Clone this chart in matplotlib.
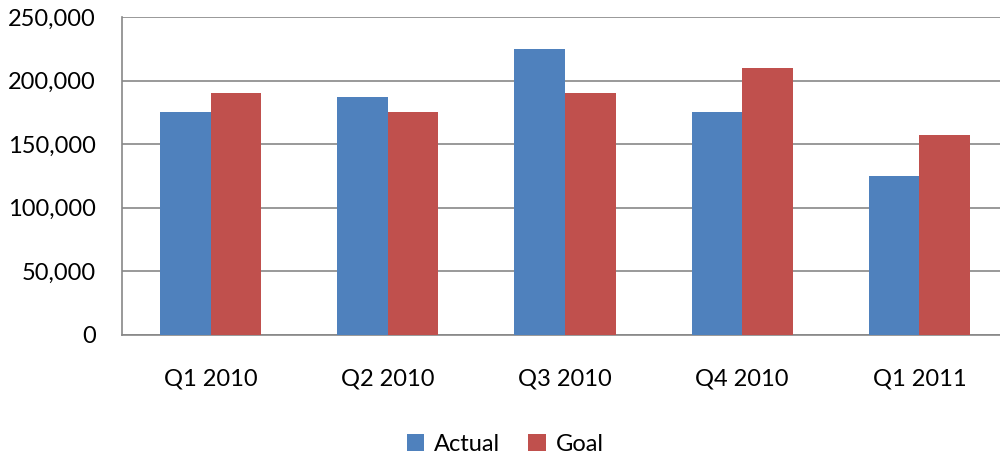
import matplotlib
matplotlib.use('Agg')
import matplotlib.pyplot as plt
import numpy as np
from matplotlib import rcParams
from matplotlib.ticker import FuncFormatter

rcParams.update({'font.family': ['Lato', 'DejaVu Sans']})

categories = ['Q1 2010', 'Q2 2010', 'Q3 2010', 'Q4 2010', 'Q1 2011']
actual = [175000, 187000, 225000, 175000, 125000]
goal = [190000, 175000, 190000, 210000, 157000]
yticks = [0, 50000, 100000, 150000, 200000, 250000]

blue = '#4F81BD'
red = '#C0504D'
grid_color = '#878787'

fig = plt.figure(figsize=(10, 4.59), dpi=100)
ax = fig.add_axes([0.122, 0.2702, 0.886, 0.6928])

x = np.arange(len(categories))
w = 1 / 3.5  # excel gap width 150%
ax.bar(x - w / 2, actual, width=w, color=blue, label='Actual', zorder=3)
ax.bar(x + w / 2, goal, width=w, color=red, label='Goal', zorder=3)

ax.set_xlim(-0.5, len(categories) - 0.5)
ax.set_ylim(0, 250000)
ax.set_yticks(yticks)
ax.yaxis.set_major_formatter(FuncFormatter(lambda v, p: '{:,.0f}'.format(v)))
ax.set_xticks(x)
ax.set_xticklabels(categories)

ax.grid(axis='y', color=grid_color, linewidth=1.2, zorder=0)
for s in ['top', 'right']:
    ax.spines[s].set_visible(False)
for s in ['left', 'bottom']:
    ax.spines[s].set_color(grid_color)
    ax.spines[s].set_linewidth(1.2)
ax.tick_params(axis='both', length=0, labelsize=17, colors='black')
ax.tick_params(axis='y', pad=19)
ax.tick_params(axis='x', pad=24)

fig.legend(loc='center', bbox_to_anchor=(0.505, 0.032), ncol=2, frameon=False,
           fontsize=17, handlelength=0.75, handleheight=0.75, handletextpad=0.4,
           columnspacing=1.2)

fig.savefig('out.png', dpi=100)
